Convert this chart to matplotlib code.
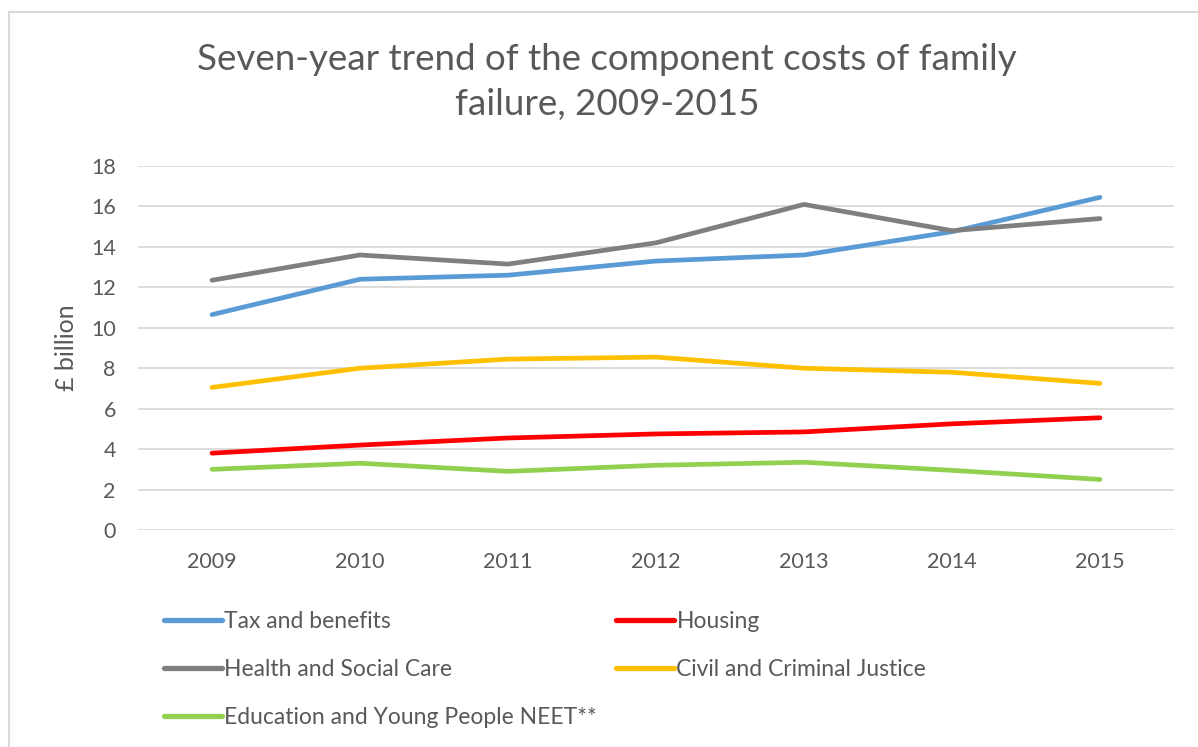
import matplotlib
matplotlib.use("Agg")
import matplotlib.pyplot as plt
from matplotlib.patches import Rectangle
from matplotlib.lines import Line2D

years = ["2009", "2010", "2011", "2012", "2013", "2014", "2015"]
tax_benefits = [10.65, 12.4, 12.6, 13.3, 13.6, 14.75, 16.45]
housing = [3.8, 4.2, 4.55, 4.75, 4.85, 5.25, 5.55]
health_social = [12.35, 13.6, 13.15, 14.2, 16.1, 14.8, 15.4]
civil_criminal = [7.05, 8.0, 8.45, 8.55, 8.0, 7.8, 7.25]
education_neet = [3.0, 3.3, 2.9, 3.2, 3.35, 2.95, 2.5]

series = [
    ("Tax and benefits", tax_benefits, "#5B9BD5"),
    ("Housing", housing, "#FF0000"),
    ("Health and Social Care", health_social, "#7F7F7F"),
    ("Civil and Criminal Justice", civil_criminal, "#FFC000"),
    ("Education and Young People NEET**", education_neet, "#92D050"),
]

text_col = "#595959"
plt.rcParams['font.family'] = ['Lato', 'DejaVu Sans']

W, H = 1198, 747
fig = plt.figure(figsize=(W / 100, H / 100), dpi=100)
ax = fig.add_axes([138 / W, 1 - 530 / H, 1036 / W, 364 / H])

x = list(range(len(years)))
handles = {}
for name, vals, col in series:
    ln, = ax.plot(x, vals, color=col, lw=3.4, solid_capstyle='round',
                  solid_joinstyle='round', label=name, zorder=3)
    handles[name] = ln

ax.set_xlim(-0.5, len(years) - 0.5)
ax.set_ylim(0, 18)
ax.set_yticks(range(0, 19, 2))
ax.set_xticks(x)
ax.set_xticklabels(years)
ax.grid(axis='y', color='#d9d9d9', lw=1.3)
ax.set_axisbelow(True)
for s in ax.spines.values():
    s.set_visible(False)
ax.tick_params(axis='both', length=0, labelsize=15.5, colors=text_col)
ax.tick_params(axis='y', pad=16)
ax.tick_params(axis='x', pad=16)

fig.text(607 / W, 1 - 60 / H, "Seven-year trend of the component costs of family",
         ha='center', va='center', fontsize=26.5, color=text_col)
fig.text(607 / W, 1 - 105 / H, "failure, 2009-2015",
         ha='center', va='center', fontsize=26.5, color=text_col)
fig.text(66 / W, 1 - 348 / H, "£ billion", rotation=90, ha='center', va='center',
         fontsize=18, color=text_col)

# legend in two columns, placed by hand
col1 = ["Tax and benefits", "Health and Social Care", "Education and Young People NEET**"]
col2 = ["Housing", "Civil and Criminal Justice"]
for names, xpos in [(col1, 153), (col2, 605)]:
    hs = [Line2D([], [], color=handles[n].get_color(), lw=3.8, solid_capstyle='round') for n in names]
    leg = fig.legend(hs, names, loc='upper left', bbox_to_anchor=(xpos / W, 1 - 600 / H),
                     frameon=False, fontsize=16.5, handlelength=2.5, handletextpad=0.12,
                     labelspacing=1.16, borderpad=0)
    for t in leg.get_texts():
        t.set_color(text_col)

fig.patches.append(Rectangle((9 / W, -0.1), 1.2, 1 - 12 / H + 0.1, transform=fig.transFigure,
                             fill=False, edgecolor='#d9d9d9', lw=1.5))

fig.savefig("out.png", dpi=100)
